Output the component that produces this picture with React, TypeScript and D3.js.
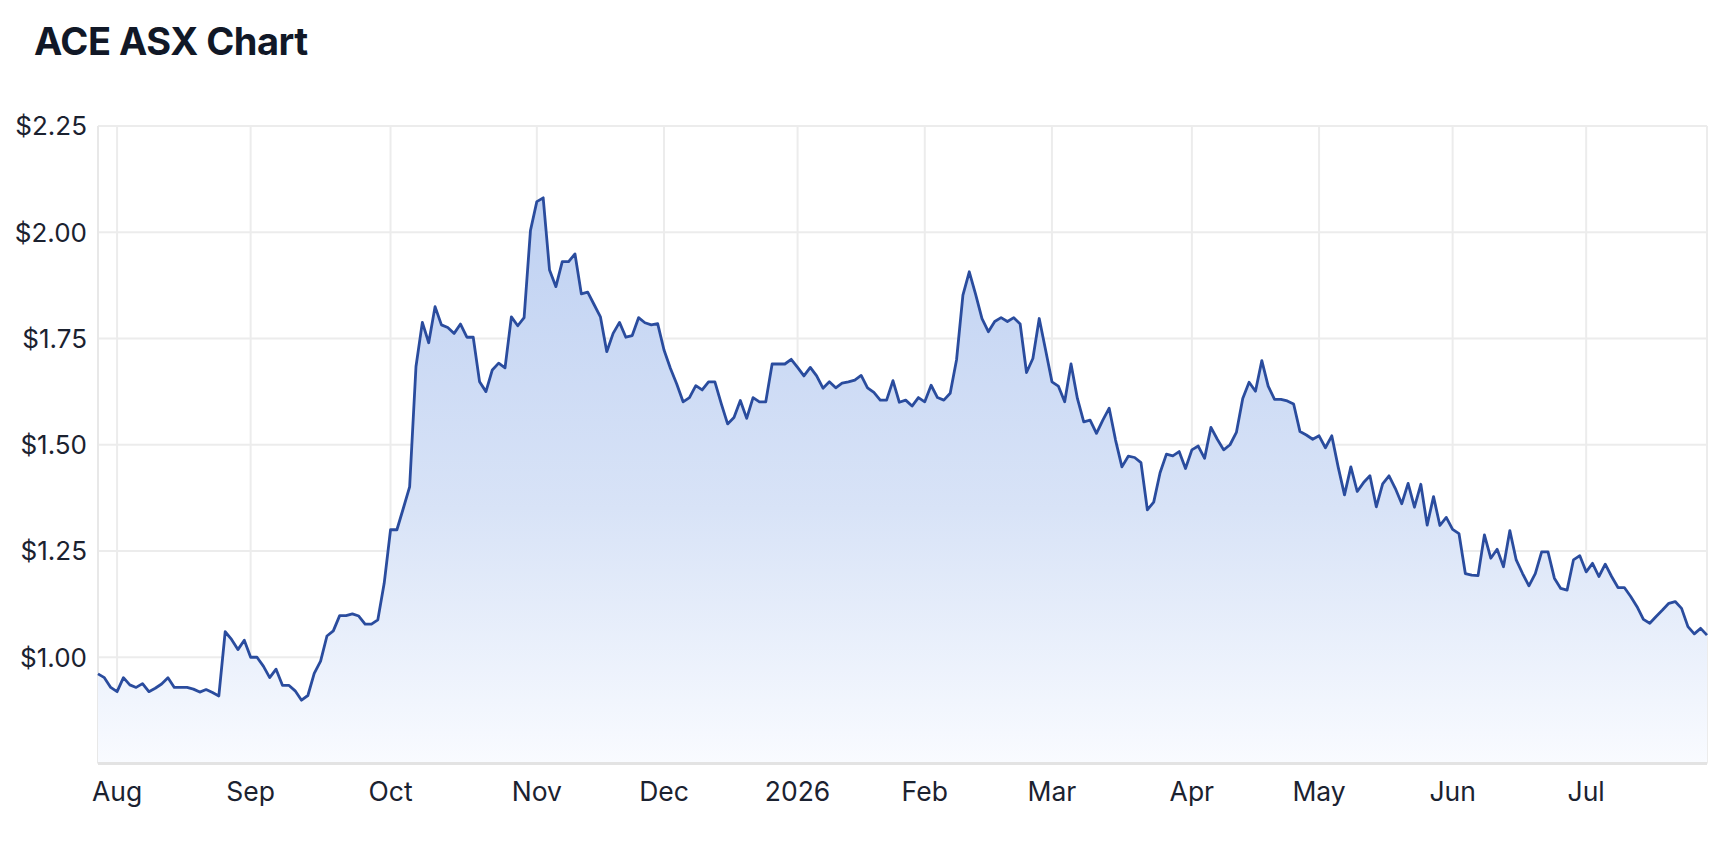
import * as d3 from "d3";

// one close per ASX trading day, 29 Jul 2025 .. 28 Jul 2026
const startDate = "2025-07-29";
const holidays = ["2025-12-25", "2025-12-26", "2026-01-01", "2026-01-26", "2026-04-03", "2026-04-06", "2026-06-08"];

const closes = [
  0.961, 0.952, 0.929, 0.919, 0.952, 0.935, 0.929, 0.938, 0.919, 0.927,
  0.937, 0.952, 0.929, 0.929, 0.929, 0.925, 0.918, 0.924, 0.917, 0.909,
  1.06, 1.042, 1.018, 1.04, 1.0, 1.0, 0.979, 0.952, 0.972, 0.934,
  0.934, 0.921, 0.899, 0.91, 0.962, 0.991, 1.05, 1.062, 1.098, 1.098,
  1.102, 1.097, 1.078, 1.078, 1.088, 1.174, 1.3, 1.3, 1.35, 1.401,
  1.684, 1.788, 1.74, 1.825, 1.782, 1.776, 1.762, 1.784, 1.753, 1.753,
  1.648, 1.625, 1.676, 1.692, 1.681, 1.801, 1.78, 1.799, 2.004, 2.072,
  2.081, 1.911, 1.872, 1.931, 1.931, 1.949, 1.855, 1.859, 1.83, 1.801,
  1.719, 1.762, 1.788, 1.753, 1.757, 1.799, 1.787, 1.782, 1.785, 1.723,
  1.68, 1.643, 1.601, 1.611, 1.639, 1.629, 1.648, 1.648, 1.597, 1.549,
  1.564, 1.604, 1.562, 1.611, 1.601, 1.601, 1.69, 1.69, 1.69, 1.701,
  1.682, 1.662, 1.682, 1.662, 1.633, 1.648, 1.634, 1.645, 1.648, 1.652,
  1.663, 1.634, 1.623, 1.605, 1.605, 1.651, 1.6, 1.605, 1.591, 1.611,
  1.601, 1.64, 1.611, 1.605, 1.621, 1.7, 1.852, 1.907, 1.854, 1.797,
  1.766, 1.79, 1.799, 1.79, 1.799, 1.784, 1.67, 1.703, 1.797, 1.723,
  1.648, 1.638, 1.601, 1.69, 1.609, 1.554, 1.558, 1.527, 1.558, 1.586,
  1.511, 1.448, 1.473, 1.47, 1.458, 1.347, 1.365, 1.434, 1.478, 1.474,
  1.484, 1.444, 1.488, 1.497, 1.468, 1.541, 1.513, 1.488, 1.5, 1.529,
  1.609, 1.647, 1.626, 1.698, 1.638, 1.607, 1.607, 1.603, 1.596, 1.531,
  1.523, 1.513, 1.521, 1.493, 1.521, 1.448, 1.382, 1.448, 1.39, 1.411,
  1.427, 1.354, 1.408, 1.427, 1.397, 1.361, 1.409, 1.353, 1.407, 1.311,
  1.378, 1.31, 1.329, 1.301, 1.291, 1.197, 1.193, 1.192, 1.288, 1.233,
  1.254, 1.213, 1.298, 1.229, 1.197, 1.168, 1.197, 1.248, 1.248, 1.186,
  1.162, 1.158, 1.229, 1.239, 1.201, 1.221, 1.19, 1.219, 1.19, 1.164,
  1.164, 1.143, 1.119, 1.089, 1.08, 1.096, 1.111, 1.127, 1.131, 1.115,
  1.072, 1.055, 1.068, 1.052,
];

const priceTicks = [1.0, 1.25, 1.5, 1.75, 2.0, 2.25];
const priceDomain = [0.75, 2.25];

const W = 1732;
const H = 860;
const M = { left: 98, right: 1707, top: 126, bottom: 763.5 };

const fmtDay = d3.timeFormat("%Y-%m-%d");

function tradingDays(count: number) {
  const out: Date[] = [];
  let d = d3.timeParse("%Y-%m-%d")(startDate)!;
  while (out.length < count) {
    const dow = d.getDay();
    if (dow !== 0 && dow !== 6 && !holidays.includes(fmtDay(d))) out.push(d);
    d = d3.timeDay.offset(d, 1);
  }
  return out;
}

export default function App() {
  const dates = tradingDays(closes.length);
  const data = dates.map((date, i) => ({ key: fmtDay(date), date, close: closes[i] }));

  const x = d3.scalePoint<string>().domain(data.map((d) => d.key)).range([M.left, M.right]);
  const y = d3.scaleLinear().domain(priceDomain).range([M.bottom, M.top]);

  // first trading day of each month gets a tick
  const monthTicks = data.filter((d, i) => i > 0 && d.date.getMonth() !== data[i - 1].date.getMonth());
  const monthLabel = (d: Date) => (d.getMonth() === 0 ? d3.timeFormat("%Y")(d) : d3.timeFormat("%b")(d));

  const line = d3
    .line<(typeof data)[number]>()
    .x((d) => x(d.key)!)
    .y((d) => y(d.close));
  const area = d3
    .area<(typeof data)[number]>()
    .x((d) => x(d.key)!)
    .y0(y(priceDomain[0]))
    .y1((d) => y(d.close));

  const peak = d3.max(closes)!;
  const font = "Inter, 'Noto Sans', sans-serif";

  return (
    <svg
      width={W}
      height={H}
      style={{ position: "absolute", left: 0, top: 0, display: "block", background: "#fff" }}
    >
      <defs>
        <linearGradient id="fillGrad" gradientUnits="userSpaceOnUse" x1="0" x2="0" y1={y(peak)} y2={y(priceDomain[0])}>
          <stop offset="0" stopColor="#bfd1f2" />
          <stop offset="0.55" stopColor="#d8e3f7" />
          <stop offset="1" stopColor="#f9fbff" />
        </linearGradient>
      </defs>

      <text x={34} y={55} fontFamily={font} fontWeight={700} fontSize={38} fill="#111827" letterSpacing={-0.5}>
        ACE ASX Chart
      </text>

      {priceTicks.map((t) => (
        <g key={t}>
          <line x1={M.left} x2={M.right} y1={y(t)} y2={y(t)} stroke="#ececec" strokeWidth={2} />
          <text
            x={87}
            y={y(t)}
            dy="0.36em"
            textAnchor="end"
            fontFamily={font}
            fontSize={26}
            fill="#1b2230"
          >
            {d3.format("$.2f")(t)}
          </text>
        </g>
      ))}

      {monthTicks.map((d) => (
        <g key={d.key}>
          <line x1={x(d.key)} x2={x(d.key)} y1={M.top} y2={M.bottom} stroke="#ececec" strokeWidth={2} />
          <text x={x(d.key)} y={801} textAnchor="middle" fontFamily={font} fontSize={26.5} fill="#1b2230">
            {monthLabel(d.date)}
          </text>
        </g>
      ))}

      <line x1={M.left} x2={M.left} y1={M.top} y2={M.bottom} stroke="#e8e8e8" strokeWidth={2} />
      <line x1={M.right} x2={M.right} y1={M.top} y2={M.bottom} stroke="#ececec" strokeWidth={2} />

      <path d={area(data) ?? undefined} fill="url(#fillGrad)" />
      <path d={line(data) ?? undefined} fill="none" stroke="#2a4c9e" strokeWidth={2.8} strokeLinejoin="round" />

      <line x1={M.left} x2={M.right} y1={M.bottom} y2={M.bottom} stroke="#e3e3e3" strokeWidth={3} />
    </svg>
  );
}
